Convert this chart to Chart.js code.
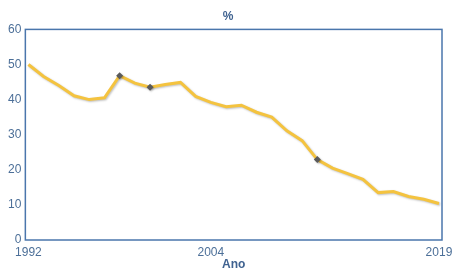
<!DOCTYPE html>
<html>
<head>
<meta charset="utf-8">
<script src="https://cdn.jsdelivr.net/npm/chart.js@4.4.0/dist/chart.umd.min.js"></script>
<style>
    html, body { margin: 0; padding: 0; background: #fff; }
    #box { width: 452px; height: 269px; }
</style>
</head>
<body>
<div id="box"><canvas id="myChart"></canvas></div>
<script>
// anos e valores (%)
var anos = [1992, 1993, 1994, 1995, 1996, 1997, 1998, 1999, 2000, 2001,
            2002, 2003, 2004, 2005, 2006, 2007, 2008, 2009, 2010, 2011,
            2012, 2013, 2014, 2015, 2016, 2017, 2018, 2019];
var valores = [50.0, 46.6, 44.0, 41.1, 40.0, 40.5, 46.8, 44.7, 43.5, 44.3,
               44.9, 40.9, 39.2, 38.0, 38.4, 36.4, 35.0, 31.1, 28.3, 22.9,
               20.5, 18.9, 17.3, 13.5, 13.8, 12.4, 11.6, 10.4];
var anosMarcados = [1998, 2000, 2011];
var anosEixo = [1992, 2004, 2019];
var yTicks = [0, 10, 20, 30, 40, 50, 60];

var azul = '#4a76ac';
var texto = '#4c6f98';

var pontos = anos.map(function (a, i) { return { x: a, y: valores[i] }; });
var raios = anos.map(function (a) { return anosMarcados.indexOf(a) >= 0 ? 3.5 : 0; });

// moldura em volta da area do grafico
var moldura = {
    id: 'moldura',
    afterDraw: function (chart) {
        var a = chart.chartArea;
        var ctx = chart.ctx;
        ctx.save();
        ctx.strokeStyle = azul;
        ctx.lineWidth = 1.5;
        ctx.strokeRect(a.left, a.top, a.right - a.left, a.bottom - a.top);
        ctx.restore();
    }
};

// sombra leve da linha
var sombra = {
    id: 'sombra',
    beforeDatasetDraw: function (chart) {
        var ctx = chart.ctx;
        ctx.save();
        ctx.shadowColor = 'rgba(0,0,0,0.25)';
        ctx.shadowBlur = 2;
        ctx.shadowOffsetX = 1;
        ctx.shadowOffsetY = 1;
    },
    afterDatasetDraw: function (chart) {
        chart.ctx.restore();
    }
};

var fonte = { family: 'Arial, Liberation Sans', size: 12, lineHeight: 1 };
var fonteBold = { family: 'Arial, Liberation Sans', size: 12, weight: 'bold', lineHeight: 1 };

var ctx = document.getElementById('myChart').getContext('2d');
var myChart = new Chart(ctx, {
    type: 'line',
    data: {
        datasets: [{
            label: '%',
            data: pontos,
            borderColor: '#f4c33f',
            borderWidth: 3,
            tension: 0,
            pointStyle: 'rectRot',
            pointRadius: raios,
            pointBackgroundColor: '#5a5a5a',
            pointBorderColor: '#5a5a5a',
            pointBorderWidth: 0
        }]
    },
    options: {
        responsive: true,
        maintainAspectRatio: false,
        animation: false,
        layout: {
            padding: { left: 4, right: 0, top: 0, bottom: -2 }
        },
        plugins: {
            legend: { display: false },
            tooltip: { enabled: false },
            title: {
                display: true,
                text: '%',
                color: '#3f6290',
                font: { family: 'Arial, Liberation Sans', size: 12, weight: 'bold' },
                padding: { top: 9, bottom: 6 }
            }
        },
        scales: {
            x: {
                type: 'linear',
                min: 1991.8,
                max: 2019.2,
                afterBuildTicks: function (axis) {
                    axis.ticks = anosEixo.map(function (v) { return { value: v }; });
                },
                afterFit: function (axis) {
                    axis.height = 31;
                    axis.paddingRight = 10;
                    axis.paddingLeft = 0;
                },
                grid: { display: false, drawTicks: false },
                border: { display: false },
                ticks: {
                    color: texto,
                    font: fonte,
                    padding: 7,
                    maxRotation: 0,
                    callback: function (v) { return String(v); }
                },
                title: {
                    display: true,
                    text: 'Ano',
                    color: '#3f6290',
                    font: fonteBold,
                    padding: { top: 3, bottom: 0 }
                }
            },
            y: {
                min: 0,
                max: 60,
                afterBuildTicks: function (axis) {
                    axis.ticks = yTicks.map(function (v) { return { value: v }; });
                },
                grid: { display: false, drawTicks: false },
                border: { display: false },
                ticks: {
                    color: texto,
                    font: fonte,
                    padding: 4
                }
            }
        }
    },
    plugins: [moldura, sombra]
});
</script>
</body>
</html>
